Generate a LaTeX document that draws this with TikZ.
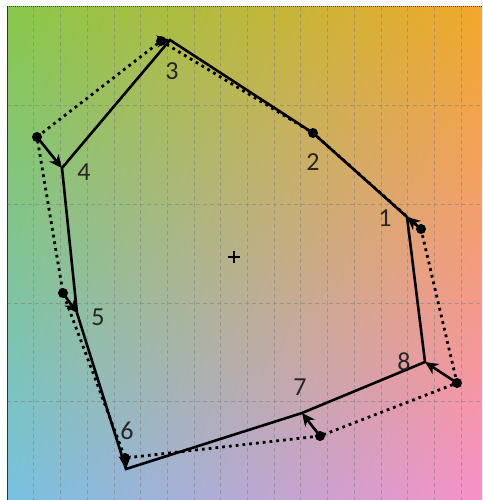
\documentclass[tikz,border=0pt]{standalone}
\usepackage{fontspec}
\setmainfont{Carlito}
\usetikzlibrary{arrows.meta,shadings}
\definecolor{cTL}{HTML}{88C84A}
\definecolor{cTR}{HTML}{F2A82A}
\definecolor{cBL}{HTML}{76C2E2}
\definecolor{cBR}{HTML}{F890C8}
\tikzset{
  solidpoly/.style={line width=2.6pt, line join=miter},
  dotpoly/.style={line width=2.8pt, dash pattern=on 2.8pt off 4pt},
  pt/.style={circle, fill=black, inner sep=0pt, minimum size=10pt},
  vlabel/.style={font=\fontsize{26}{30}\selectfont, text=black!85, inner sep=0pt},
  move/.style={line width=2.6pt, -{Stealth[length=13pt,width=12pt,inset=4pt]}, shorten <=1pt},
  gridline/.style={gray, line width=0.6pt, dash pattern=on 4pt off 3pt, opacity=0.5}
}
\begin{document}
\begin{tikzpicture}[x=1pt,y=-1pt]
\useasboundingbox (0,0) rectangle (482,500);
\shade[upper left=cTL, upper right=cTR, lower left=cBL, lower right=cBR] (7,7) rectangle (482,500);
% grid
\foreach \i in {1,...,17} \draw[gridline] ({7+26.7*\i},7) -- ({7+26.7*\i},500);
\foreach \j in {1,...,4} \draw[gridline] (7,{7+98.6*\j}) -- (482,{7+98.6*\j});
% frame
\draw[black!80, line width=1pt] (7,7) -- (7,500);
\draw[black!80, line width=1pt, dash pattern=on 1pt off 1pt] (7,7) -- (482,7);
% polygon vertices
\coordinate (p1) at (407,217);
\coordinate (p2) at (313,133);
\coordinate (p3) at (170,40);
\coordinate (p4) at (62,168);
\coordinate (p5) at (77,313);
\coordinate (p6) at (126,469);
\coordinate (p7) at (302,413);
\coordinate (p8) at (425,362);
% dots
\node[pt] (d1) at (421,229) {};
\node[pt] (d2) at (313,133) {};
\node[pt] (d3) at (161,41) {};
\node[pt] (d4) at (37,137) {};
\node[pt] (d5) at (63,293) {};
\node[pt] (d6) at (125,458) {};
\node[pt] (d7) at (320,436) {};
\node[pt] (d8) at (457,383) {};
% dotted polygon
\draw[dotpoly] (d1.center) -- (d2.center) -- (d3.center) -- (d4.center) -- (d5.center) -- (d6.center) -- (d7.center) -- (d8.center) -- cycle;
% solid polygon
\draw[solidpoly] (p1) -- (p2) -- (p3) -- (p4) -- (p5) -- (p6) -- (p7) -- (p8) -- cycle;
% arrows
\draw[move] (d1.center) -- (p1);
\draw[move] (d3.center) -- (p3);
\draw[move] (d4.center) -- (p4);
\draw[move] (d5.center) -- (p5);
\draw[move] (d6.center) -- (p6);
\draw[move] (d7.center) -- (p7);
\draw[move] (d8.center) -- (p8);
% labels
\node[vlabel] (l1) at (385,218) {1};
\node[vlabel] (l2) at (313,162) {2};
\node[vlabel] (l3) at (172,71) {3};
\node[vlabel] (l4) at (84,172) {4};
\node[vlabel] (l5) at (98,317) {5};
\node[vlabel] (l6) at (127,431) {6};
\node[vlabel] (l7) at (300,387) {7};
\node[vlabel] (l8) at (404,362) {8};
% centre mark
\coordinate (c) at (234,257);
\draw[line width=1.6pt] ([xshift=-6pt]c) -- ([xshift=6pt]c);
\draw[line width=1.6pt] ([yshift=-6pt]c) -- ([yshift=6pt]c);
\end{tikzpicture}
\end{document}
